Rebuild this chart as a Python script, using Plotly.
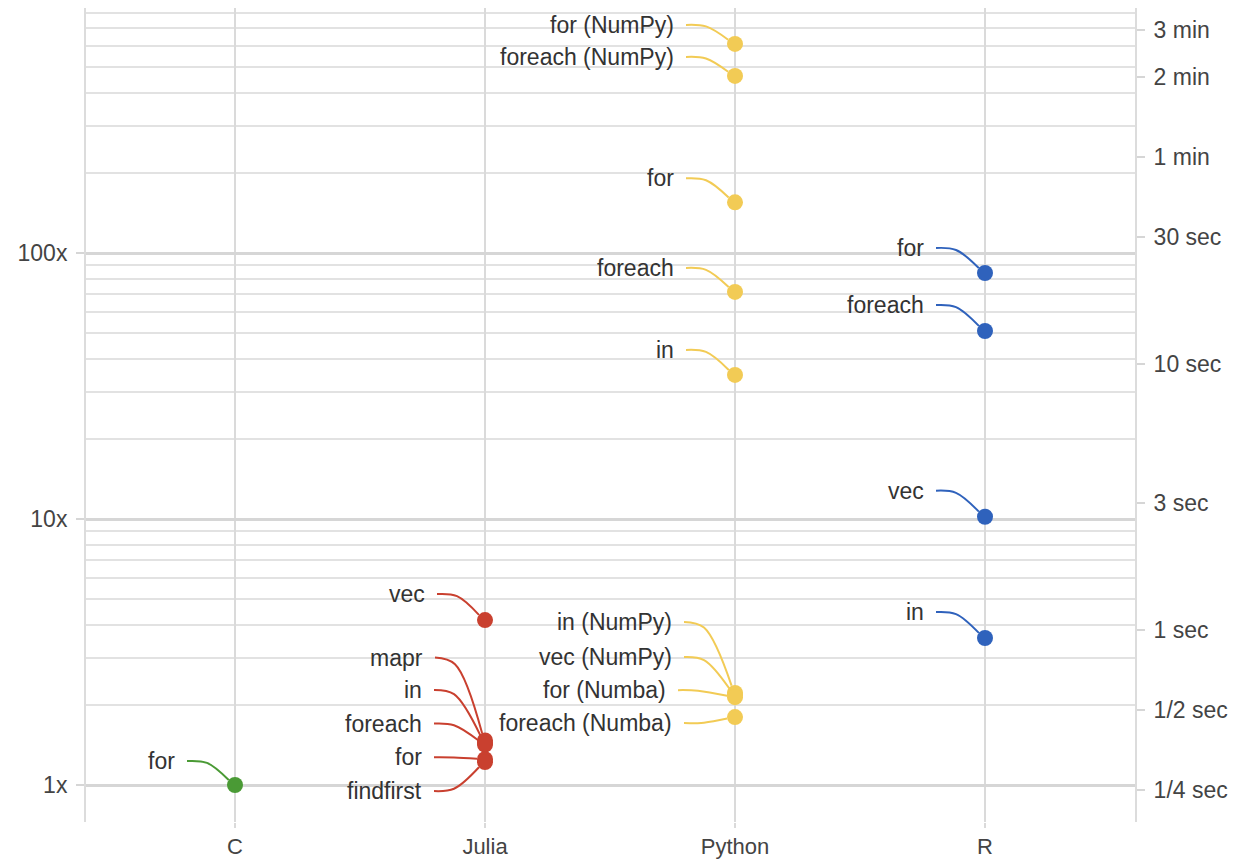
import math
import plotly.graph_objects as go

# ---------------- data ----------------
categories = ["C", "Julia", "Python", "R"]

c_methods = ["for"]
c_ratio = [1.0]

julia_methods = ["vec", "mapr", "in", "foreach", "for", "findfirst"]
julia_ratio = [4.17, 1.47, 1.44, 1.42, 1.25, 1.22]

python_methods = ["for (NumPy)", "foreach (NumPy)", "for", "foreach", "in",
                  "in (NumPy)", "vec (NumPy)", "for (Numba)", "foreach (Numba)"]
python_ratio = [611, 463, 155, 71.4, 34.8, 2.22, 2.18, 2.14, 1.80]

r_methods = ["for", "foreach", "vec", "in"]
r_ratio = [84.1, 50.9, 10.2, 3.57]

left_tick_vals = [1, 10, 100]
left_tick_text = ["1x", "10x", "100x"]

right_tick_seconds = [0.25, 0.5, 1, 3, 10, 30, 60, 120, 180]
right_tick_text = ["1/4 sec", "1/2 sec", "1 sec", "3 sec", "10 sec", "30 sec",
                   "1 min", "2 min", "3 min"]
seconds_per_1x = 0.261

minor_vals = [m * d for d in (1, 10, 100) for m in range(2, 10)]

# ---------------- layout / styles ----------------
# page body has an 8px margin
W, H = 1233, 853
ML, MR, MT, MB = 78, 106, 0, 39
XR = [-0.596, 3.6]
YR = [-0.139, 2.921]
px_per_x = (W - ML - MR) / (XR[1] - XR[0])
px_per_dec = (H - MT - MB) / (YR[1] - YR[0])

colors = {"C": "#4A9A35", "Julia": "#C9402F", "Python": "#F2CB55", "R": "#2F62BC"}

# label offsets in pixels (label right edge dx, label centre dy) relative to the point
label_dx = {
    "C": [-58],
    "Julia": [-58, -60, -61, -61, -61, -61],
    "Python": [-59, -59, -59, -59, -59, -61, -61, -67, -61],
    "R": [-59, -59, -59, -59],
}
label_dy = {
    "C": [-24],
    "Julia": [-26, -83, -53, -21, -2, 29],
    "Python": [-19, -19, -24, -24, -25, -71, -38, -7, 6],
    "R": [-25, -26, -26, -26],
}

series = {
    "C": (c_methods, c_ratio),
    "Julia": (julia_methods, julia_ratio),
    "Python": (python_methods, python_ratio),
    "R": (r_methods, r_ratio),
}

FONT = "Liberation Sans, Arial, Helvetica, sans-serif"
fig = go.Figure()
annotations = []


def to_data(idx, val, px, py):
    """pixel offset (px right, py down) from a point -> data coords"""
    return idx + px / px_per_x, val * 10 ** (-py / px_per_dec)


for idx, cat in enumerate(categories):
    methods, vals = series[cat]
    col = colors[cat]
    for k, (m, v) in enumerate(zip(methods, vals)):
        dx = label_dx[cat][k]
        dy = label_dy[cat][k]
        sx, sy = dx + 10, dy
        mx, my = dx + 30, dy * 0.92
        norm = math.hypot(mx, my) or 1
        ex, ey = mx / norm * 8, my / norm * 8
        pts = [to_data(idx, v, sx, sy), to_data(idx, v, mx, my), to_data(idx, v, ex, ey)]
        fig.add_trace(go.Scatter(
            x=[p[0] for p in pts], y=[p[1] for p in pts], mode="lines",
            line=dict(color=col, width=2, shape="spline", smoothing=1.0),
            hoverinfo="skip", showlegend=False))
        ax_, ay_ = to_data(idx, v, dx, dy)
        annotations.append(dict(
            x=ax_, y=math.log10(ay_), xref="x", yref="y", text=m, showarrow=False,
            xanchor="right", yanchor="middle",
            font=dict(family=FONT, size=23, color="#333333")))
    fig.add_trace(go.Scatter(
        x=[idx] * len(vals), y=vals, mode="markers",
        marker=dict(color=col, size=16, symbol="circle", line=dict(width=0)),
        name=cat, showlegend=False))

# invisible trace to anchor right axis
fig.add_trace(go.Scatter(x=[0], y=[1], yaxis="y2", mode="markers",
                         marker=dict(opacity=0), hoverinfo="skip", showlegend=False))

fig.update_layout(
    width=W, height=H,
    margin=dict(l=ML, r=MR, t=MT, b=MB, autoexpand=False),
    paper_bgcolor="white", plot_bgcolor="white",
    font=dict(family=FONT, size=23, color="#444444"),
    annotations=annotations,
    xaxis=dict(
        range=XR, tickmode="array", tickvals=list(range(len(categories))),
        ticktext=categories, showgrid=True, gridcolor="#dadada", gridwidth=1.5,
        ticks="outside", ticklen=5, tickcolor="#dadada", tickwidth=1.5,
        zeroline=False, showline=False,
        tickfont=dict(family=FONT, size=22, color="#444444")),
    yaxis=dict(
        type="log", range=YR, tickmode="array", tickvals=left_tick_vals,
        ticktext=left_tick_text, showgrid=True, gridcolor="#d6d6d6", gridwidth=3,
        ticks="outside", ticklen=8, tickcolor="#d6d6d6", tickwidth=2,
        showline=True, linecolor="#dcdcdc", linewidth=2, zeroline=False,
        ticklabelstandoff=4,
        minor=dict(tickmode="array", tickvals=minor_vals, showgrid=True,
                   gridcolor="#e2e2e2", gridwidth=1.8, ticks=""),
        tickfont=dict(family=FONT, size=23, color="#444444")),
    yaxis2=dict(
        type="log", range=YR, overlaying="y", side="right", tickmode="array",
        tickvals=[s / seconds_per_1x for s in right_tick_seconds],
        ticktext=right_tick_text, showgrid=False, ticks="outside", ticklen=8,
        tickcolor="#d6d6d6", tickwidth=1.5, showline=True, linecolor="#dcdcdc",
        linewidth=2, zeroline=False, ticklabelstandoff=4,
        tickfont=dict(family=FONT, size=23, color="#444444")),
)

fig.write_html("out.html")
